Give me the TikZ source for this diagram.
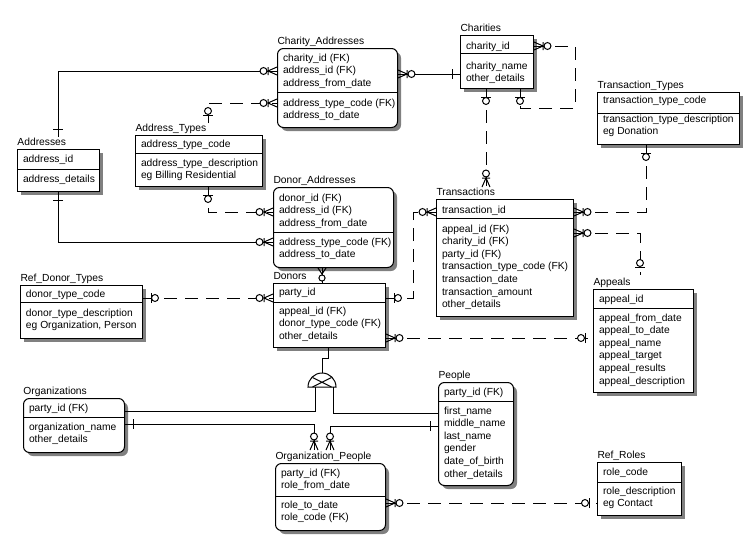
\documentclass[tikz,border=0pt]{standalone}
\usepackage{fontspec}
\setmainfont{Liberation Sans}
\usetikzlibrary{calc}
\tikzset{
  ent/.style={draw=black, fill=white, rectangle, inner sep=0pt, anchor=north west, line width=0.75pt},
  rnd/.style={rounded corners=4.5pt},
  shad/.style={fill=black!50, draw=none},
  txt/.style={anchor=base west, inner sep=0pt, font=\fontsize{7.7}{9.4}\selectfont},
  rel/.style={draw, line width=0.75pt},
  nrel/.style={draw, line width=0.75pt, dash pattern=on 9.75pt off 6pt},
  zmany/.pic={\draw[solid] (0,-4) -- (9,0) -- (0,4) (9,-4) -- (9,4);
              \draw[solid, fill=white] (13.5,0) circle[radius=2.6pt];},
  zmanys/.pic={\draw[solid] (0,-4) -- (6,0) -- (0,4);
              \draw[solid, fill=white] (10,0) circle[radius=2.3pt];},
  zone/.pic={\draw[solid] (8,-5) -- (8,5);
             \draw[solid, fill=white] (12,0) circle[radius=2.6pt];},
  one/.pic={\draw[solid] (8,-5) -- (8,5);},
}
\newcommand\entbox[8]{%
  \path[shad,#2] (#3+4,#4+4) rectangle ++(#5,#6);
  \node[ent,#2,minimum width=#5*0.75pt,minimum height=#6*0.75pt] (#1) at (#3,#4) {};
  \draw (#3,#4+#7) -- ++(#5,0);
  \node[txt] (#1-t) at (#3,#4-3.5) {#8};
}
\newcommand\rowsat[4]{%
  \foreach \t [count=\i] in {#4} {\node[txt] (#1-\i) at (#2+5.5,#3+12.6*\i-12.6) {\t};}
}
\begin{document}
\begin{tikzpicture}[x=0.75pt,y=-0.75pt,line width=0.75pt]
\fill[white] (0,0) rectangle (754,557);
\useasboundingbox (0,0) rectangle (754,557);

% ---------- entities ----------
\entbox{ca}{rnd}{277}{48}{120}{79}{44}{Charity\_Addresses}
\rowsat{ca-k}{277}{61}{charity\_id (FK),address\_id (FK),address\_from\_date}
\rowsat{ca-n}{277}{106}{address\_type\_code (FK),address\_to\_date}

\entbox{ch}{}{460}{35}{73}{53}{18}{Charities}
\rowsat{ch-k}{460}{49}{charity\_id}
\rowsat{ch-n}{460}{69}{charity\_name,other\_details}

\entbox{tt}{}{597}{92}{142}{52}{21}{Transaction\_Types}
\rowsat{tt-k}{597}{103}{transaction\_type\_code}
\rowsat{tt-n}{597}{122}{transaction\_type\_description,eg Donation}

\entbox{ad}{}{17}{149}{82}{42}{20}{Addresses}
\rowsat{ad-k}{17}{162}{address\_id}
\rowsat{ad-n}{17}{182}{address\_details}

\entbox{at}{}{135}{135}{127}{51}{18}{Address\_Types}
\rowsat{at-k}{135}{147}{address\_type\_code}
\rowsat{at-n}{135}{166}{address\_type\_description,eg Billing Residential}

\entbox{da}{rnd}{273}{187}{120}{80}{45}{Donor\_Addresses}
\rowsat{da-k}{273}{201}{donor\_id (FK),address\_id (FK),address\_from\_date}
\rowsat{da-n}{273}{245}{address\_type\_code (FK),address\_to\_date}

\entbox{tr}{}{436}{199}{137}{117}{19}{Transactions}
\rowsat{tr-k}{436}{213}{transaction\_id}
\rowsat{tr-n}{436}{232}{appeal\_id (FK),charity\_id (FK),party\_id (FK),transaction\_type\_code (FK),transaction\_date,transaction\_amount,other\_details}

\entbox{ap}{}{593}{289}{100}{103}{19}{Appeals}
\rowsat{ap-k}{593}{302}{appeal\_id}
\rowsat{ap-n}{593}{321}{appeal\_from\_date,appeal\_to\_date,appeal\_name,appeal\_target,appeal\_results,appeal\_description}

\entbox{rdt}{}{20}{285}{122}{53}{17}{Ref\_Donor\_Types}
\rowsat{rdt-k}{20}{297}{donor\_type\_code}
\rowsat{rdt-n}{20}{316}{donor\_type\_description,{eg Organization, Person}}

\entbox{dn}{}{273}{283}{112}{64}{19}{Donors}
\rowsat{dn-k}{273}{295}{party\_id}
\rowsat{dn-n}{273}{314}{appeal\_id (FK),donor\_type\_code (FK),other\_details}

\entbox{org}{rnd}{23}{398}{101}{54}{19}{Organizations}
\rowsat{org-k}{23}{411}{party\_id (FK)}
\rowsat{org-n}{23}{430}{organization\_name,other\_details}

\entbox{op}{rnd}{275}{463}{110}{67}{33}{Organization\_People}
\rowsat{op-k}{275}{476}{party\_id (FK),role\_from\_date}
\rowsat{op-n}{275}{508}{role\_to\_date,role\_code (FK)}

\entbox{pe}{rnd}{438}{382}{75}{103}{19}{People}
\rowsat{pe-k}{438}{395}{party\_id (FK)}
\rowsat{pe-n}{438}{414}{first\_name,middle\_name,last\_name,gender,date\_of\_birth,other\_details}

\entbox{rr}{}{597}{462}{84}{53}{20}{Ref\_Roles}
\rowsat{rr-k}{597}{475}{role\_code}
\rowsat{rr-n}{597}{494}{role\_description,eg Contact}

% ---------- relationships ----------
% Addresses - Charity_Addresses
\coordinate (c1) at ($(ad.north west)+(41,-12)$);
\draw[rel] (c1) |- (ca.west |- 0,71);
\pic[rotate=90] at (c1) {one};
\pic[rotate=180] at (ca.west |- 0,71) {zmany};

% Address_Types - Charity_Addresses
\coordinate (c2) at ($(at.north west)+(73,-12)$);
\draw[nrel] (c2) |- (ca.west |- 0,103);
\pic[rotate=90] at (c2) {zone};
\pic[rotate=180] at (ca.west |- 0,103) {zmany};

% Charities - Charity_Addresses
\draw[rel] (ca.east |- 0,74) -- (ch.west |- 0,74);
\pic at (ca.east |- 0,74) {zmany};
\pic[rotate=180] at (ch.west |- 0,74) {one};

% Charities - Transactions
\coordinate (c4) at ($(tr.north west)+(50,-12)$);
\draw[nrel] (ch.south -| c4) -- (c4);
\pic[rotate=270] at (ch.south -| c4) {zone};
\pic[rotate=90] at (c4) {zmany};

% Charities recursive
\draw[nrel] (ch.east |- 0,46) -| (575,108) -| (ch.south -| 520,0);
\pic at (ch.east |- 0,46) {zmany};
\pic[rotate=270] at (ch.south -| 520,0) {zone};

% Transaction_Types - Transactions
\draw[nrel] (tt.south -| 646,0) |- (tr.east |- 0,212);
\pic[rotate=270] at (tt.south -| 646,0) {zone};
\pic at (tr.east |- 0,212) {zmany};

% Appeals - Transactions
\coordinate (c7) at ($(ap.north west)+(47,-14)$);
\draw[nrel] (tr.east |- 0,233) -| (c7);
\pic at (tr.east |- 0,233) {zmany};
\pic[rotate=90] at (c7) {zone};

% Donors - Transactions
\draw[nrel] (dn.east |- 0,298) -- (413,298) |- (tr.west |- 0,212);
\pic at (dn.east |- 0,298) {zone};
\pic[rotate=180] at (tr.west |- 0,212) {zmany};

% Appeals - Donors
\draw[nrel] (dn.east |- 0,338) -- (ap.west |- 0,338);
\pic at (dn.east |- 0,338) {zmany};
\pic[rotate=180] at (ap.west |- 0,338) {zone};

% Ref_Donor_Types - Donors
\draw[nrel] (rdt.east |- 0,298) -- (dn.west |- 0,298);
\pic at (rdt.east |- 0,298) {zone};
\pic[rotate=180] at (dn.west |- 0,298) {zmany};

% Addresses - Donor_Addresses
\draw[rel] (ad.south -| c1) |- (da.west |- 0,242);
\pic[rotate=270] at (ad.south -| c1) {one};
\pic[rotate=180] at (da.west |- 0,242) {zmany};

% Address_Types - Donor_Addresses
\draw[nrel] (at.south -| c2) |- (da.west |- 0,212);
\pic[rotate=270] at (at.south -| c2) {zone};
\pic[rotate=180] at (da.west |- 0,212) {zmany};

% Donors - Donor_Addresses
\draw[rel] (da.south -| 322,0) -- (dn.north -| 322,0);
\pic[rotate=270] at (da.south -| 322,0) {zmanys};

% Subtype discriminator
\coordinate (disc) at (322,387);
\draw[rel] (dn.south -| 328,0) |- (disc |- 0,358) -- ($(disc)+(0,-14)$);
\draw[rel, fill=white] ($(disc)+(-14,0)$) arc[start angle=180, end angle=0, radius=10.5pt] -- cycle;
\draw[rel] ($(disc)+(-9.5,-9.5)$) -- ($(disc)+(9.5,0)$)
           ($(disc)+(9.5,-9.5)$) -- ($(disc)+(-9.5,0)$);
\draw[rel] ($(disc)+(-7,0)$) |- (org.east |- 0,411);
\draw[rel] ($(disc)+(11,0)$) |- (pe.west |- 0,413);

% Organizations - Organization_People
\coordinate (c15) at ($(op.north west)+(39,-13)$);
\draw[rel] (org.east |- 0,424) -| (c15);
\pic at (org.east |- 0,424) {one};
\pic[rotate=90] at (c15) {zmany};

% People - Organization_People
\coordinate (c16) at ($(op.north west)+(55,-13)$);
\draw[rel] (pe.west |- 0,426) -| (c16);
\pic[rotate=180] at (pe.west |- 0,426) {one};
\pic[rotate=90] at (c16) {zmany};

% Ref_Roles - Organization_People
\draw[nrel] (op.east |- 0,503) -- (rr.west |- 0,503);
\pic at (op.east |- 0,503) {zmany};
\pic[rotate=180] at (rr.west |- 0,503) {zone};
\end{tikzpicture}
\end{document}
